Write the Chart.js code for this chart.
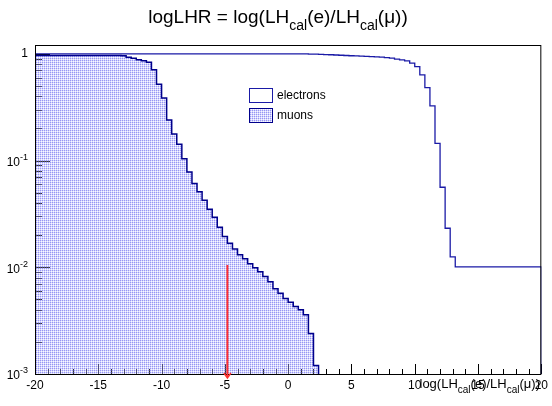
<!DOCTYPE html>
<html>
<head>
<meta charset="utf-8">
<script src="https://cdn.jsdelivr.net/npm/chart.js"></script>
<style>
  body { margin: 0; background: #fff; }
  #wrap { position: relative; width: 552px; height: 406px; }
  #title { position: absolute; left: 2px; top: 6px; width: 552px; text-align: center;
           font: 19px 'Liberation Sans', Arial, sans-serif; line-height: 22px; color: #000; }
  #xtitle { position: absolute; right: 12px; top: 377px;
            font: 13px 'Liberation Sans', Arial, sans-serif; line-height: 14px; color: #000; }
  sub { line-height: 0; }
  #title sub { font-size: 14px; vertical-align: -7px; }
  #xtitle sub { font-size: 10px; vertical-align: -5px; }
</style>
</head>
<body>
<div id="wrap">
  <canvas id="chart" width="552" height="406"></canvas>
  <div id="title">logLHR = log(LH<sub>cal</sub>(e)/LH<sub>cal</sub>(μ))</div>
  <div id="xtitle">log(LH<sub>cal</sub>(e)/LH<sub>cal</sub>(μ))</div>
</div>
<script>
// histogram binning (40 units, 100 bins)
const binLow = -20
const binWidth = 0.4

// fraction above cut, per bin
const electrons = [
  1, 1, 1, 1, 1, 1, 1, 1, 1, 1,
  1, 1, 1, 1, 1, 1, 1, 1, 1, 1,
  1, 1, 1, 1, 1, 1, 1, 1, 1, 1,
  1, 1, 1, 1, 1, 1, 1, 1, 1, 1,
  1, 1, 1, 1, 1, 1, 1, 1, 1, 1,
  1, 1, 1, 0.997, 0.995, 0.993, 0.99, 0.985, 0.98, 0.975,
  0.97, 0.965, 0.96, 0.955, 0.95, 0.947, 0.94, 0.936, 0.931, 0.92,
  0.912, 0.892, 0.879, 0.859, 0.819, 0.76, 0.635, 0.483, 0.326, 0.145,
  0.0562, 0.0232, 0.0125, 0.0101, 0.0101, 0.0101, 0.0101, 0.0101, 0.0101, 0.0101,
  0.0101, 0.0101, 0.0101, 0.0101, 0.0101, 0.0101, 0.0101, 0.0101, 0.0101, 0.0101
]
const muons = [
  0.966, 0.966, 0.966, 0.966, 0.966, 0.966, 0.966, 0.966, 0.966, 0.966,
  0.966, 0.966, 0.966, 0.966, 0.966, 0.965, 0.963, 0.957, 0.93, 0.91,
  0.88, 0.86, 0.835, 0.708, 0.52, 0.385, 0.24, 0.177, 0.142, 0.104,
  0.078, 0.061, 0.051, 0.0425, 0.035, 0.0294, 0.0237, 0.0194, 0.0168, 0.0148,
  0.0131, 0.012, 0.0108, 0.0099, 0.0091, 0.0082, 0.0073, 0.0063, 0.0057, 0.0051,
  0.0047, 0.0043, 0.004, 0.0036, 0.0024, 0.0012, 0
]

// cut marker
const cutX = -4.8
const cutY = [0.0105, 0.001]

const xTicks = [-20, -15, -10, -5, 0, 5, 10, 15, 20]
const yDecades = [-3, -2, -1, 0]
const yMin = 0.001
const yMax = 1.21

const floor = 1e-4

function histPoints(values) {
  var pts = [{ x: binLow, y: floor }]
  values.forEach((v, i) => {
    pts.push({ x: binLow + i * binWidth, y: v > 0 ? v : floor })
  })
  var last = values.length
  if (values[last - 1] > 0) {
    pts.push({ x: binLow + last * binWidth, y: values[last - 1] })
    pts.push({ x: binLow + last * binWidth, y: floor })
  }
  return pts
}

function dotPattern() {
  const c = document.createElement('canvas')
  c.width = 2
  c.height = 2
  const g = c.getContext('2d')
  g.fillStyle = 'rgba(125,125,240,0.8)'
  g.fillRect(0, 0, 1, 1)
  g.fillStyle = 'rgba(190,190,252,0.65)'
  g.fillRect(1, 0, 1, 1)
  g.fillRect(0, 1, 1, 1)
  g.fillStyle = 'rgba(235,235,255,0.3)'
  g.fillRect(1, 1, 1, 1)
  return g.createPattern(c, 'repeat')
}

const muonFill = dotPattern()
const font = "'Liberation Sans', Arial, sans-serif"

function drawTicks(chart, color) {
  const ctx = chart.ctx
  const xs = chart.scales.x
  const ys = chart.scales.y
  const a = chart.chartArea
  ctx.save()
  ctx.strokeStyle = color
  ctx.lineWidth = 1
  ctx.beginPath()
  for (var v = -20; v <= 20; v++) {
    var px = Math.round(xs.getPixelForValue(v)) + 0.5
    var len = v % 5 === 0 ? 10 : 5
    ctx.moveTo(px, a.bottom)
    ctx.lineTo(px, a.bottom - len)
  }
  yDecades.forEach((d) => {
    for (var m = 1; m <= 9; m++) {
      var val = m * Math.pow(10, d)
      if (val > yMax || val < yMin) continue
      var py = Math.round(ys.getPixelForValue(val)) + 0.5
      var len = m === 1 ? 15 : 7
      ctx.moveTo(a.left, py)
      ctx.lineTo(a.left + len, py)
    }
  })
  ctx.stroke()
  ctx.restore()
}

// inner ticks like ROOT, seen through the dotted fill
const ticksPlugin = {
  id: 'ticks',
  beforeDatasetsDraw(chart) {
    drawTicks(chart, '#000')
  },
  afterDatasetsDraw(chart) {
    drawTicks(chart, 'rgba(0,0,0,0.3)')
  },
  afterDraw(chart) {
    const ctx = chart.ctx
    const ys = chart.scales.y
    const a = chart.chartArea
    ctx.save()
    // frame
    ctx.strokeStyle = '#000'
    ctx.lineWidth = 1
    ctx.strokeRect(a.left + 0.5, a.top + 0.5, a.right - a.left - 1, a.bottom - a.top)
    // y labels with exponents
    ctx.fillStyle = '#000'
    ctx.textBaseline = 'middle'
    ctx.textAlign = 'right'
    yDecades.forEach((d) => {
      var py = ys.getPixelForValue(Math.pow(10, d))
      if (d === 0) {
        ctx.font = '12px ' + font
        ctx.fillText('1', 28, py)
      } else {
        ctx.font = '9px ' + font
        var exp = String(d)
        var ew = ctx.measureText(exp).width
        ctx.fillText(exp, 28, py - 3)
        ctx.font = '12px ' + font
        ctx.fillText('10', 28 - ew, py + 2)
      }
    })
    // legend
    ctx.lineWidth = 1
    ctx.fillStyle = '#fff'
    ctx.fillRect(249.5, 88.5, 23, 14)
    ctx.strokeStyle = '#1a1aa6'
    ctx.strokeRect(249.5, 88.5, 23, 14)
    ctx.fillStyle = muonFill
    ctx.fillRect(249.5, 108.5, 23, 14)
    ctx.strokeStyle = '#00008b'
    ctx.strokeRect(249.5, 108.5, 23, 14)
    ctx.fillStyle = '#000'
    ctx.textAlign = 'left'
    ctx.font = '12px ' + font
    ctx.fillText('electrons', 277, 96)
    ctx.fillText('muons', 277, 116)
    // arrow head of the cut marker
    const meta = chart.getDatasetMeta(0)
    const tip = meta.data[meta.data.length - 1]
    ctx.strokeStyle = '#ff3030'
    ctx.lineWidth = 1.5
    ctx.beginPath()
    ctx.moveTo(tip.x, tip.y)
    ctx.lineTo(tip.x, tip.y + 4)
    ctx.moveTo(tip.x - 3.5, tip.y - 1)
    ctx.lineTo(tip.x, tip.y + 4)
    ctx.lineTo(tip.x + 3.5, tip.y - 1)
    ctx.stroke()
    ctx.restore()
  }
}

const data = {
  datasets: [
    {
      label: 'cut',
      data: cutY.map((y) => ({ x: cutX, y: y })),
      borderColor: '#ff3030',
      borderWidth: 2,
      pointRadius: 0,
      fill: false
    },
    {
      label: 'electrons',
      data: histPoints(electrons),
      stepped: true,
      borderColor: '#1a1aa6',
      borderWidth: 1.3,
      pointRadius: 0,
      fill: false
    },
    {
      label: 'muons',
      data: histPoints(muons),
      stepped: true,
      borderColor: '#00008b',
      borderWidth: 1.5,
      pointRadius: 0,
      backgroundColor: muonFill,
      fill: 'start'
    }
  ]
}

const config = {
  type: 'line',
  data: data,
  options: {
    responsive: false,
    animation: false,
    layout: { padding: { left: 35, right: 8, top: 45, bottom: 0 } },
    plugins: {
      legend: { display: false },
      title: { display: false },
      tooltip: { enabled: false }
    },
    scales: {
      x: {
        type: 'linear',
        min: -20,
        max: 20,
        grid: { display: false, drawTicks: false },
        border: { display: false },
        afterBuildTicks: (scale) => { scale.ticks = xTicks.map((v) => ({ value: v })) },
        afterFit: (scale) => { scale.height = 32 },
        ticks: {
          padding: 4,
          color: '#000',
          maxRotation: 0,
          autoSkip: false,
          font: { family: font, size: 12 },
          callback: (v) => String(v)
        }
      },
      y: {
        type: 'logarithmic',
        min: yMin,
        max: yMax,
        display: false
      }
    }
  },
  plugins: [ticksPlugin]
}

new Chart(document.getElementById('chart'), config)
</script>
</body>
</html>
